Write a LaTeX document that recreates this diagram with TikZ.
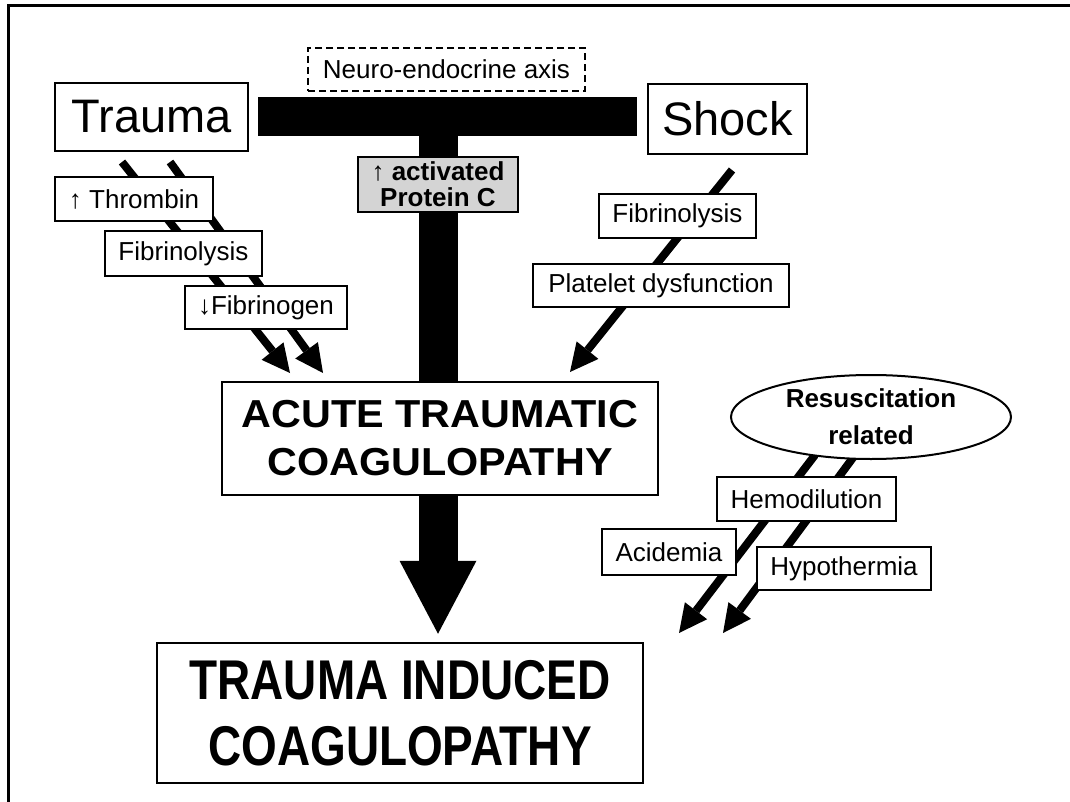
\documentclass[tikz,border=0pt]{standalone}
\usepackage{fontspec}
\setmainfont{Liberation Sans}
\newfontfamily\narrowfont[FakeStretch=0.82]{Liberation Sans}
\newfontfamily\widefont[FakeStretch=1.06]{Liberation Sans}
\usetikzlibrary{arrows.meta,shapes.geometric}

\tikzset{
  box/.style={draw, fill=white, line width=1.5pt, inner sep=0pt, font=\fontsize{26}{30}\selectfont},
  bigbox/.style={draw, fill=white, line width=2.5pt, inner sep=0pt, align=center},
  flow/.style={line width=8pt, -{Triangle[length=28pt,width=28pt,line width=0pt]}},
  trunk/.style={line width=39pt},
}

\begin{document}
\begin{tikzpicture}[x=1pt, y=-1pt]
\useasboundingbox (0,0) rectangle (1070,802);
% frame
\draw[line width=3pt] (8,802) -- (8,6) -- (1070,6);

% free ends of the small arrows
\coordinate (ta1) at (122,162);  \coordinate (tb1) at (290,373);
\coordinate (ta2) at (170,162);  \coordinate (tb2) at (323,373);
\coordinate (sa) at (732,170);   \coordinate (sb) at (570,372);
\coordinate (ra1) at (815,455);  \coordinate (rb1) at (679,633);
\coordinate (ra2) at (855,455);  \coordinate (rb2) at (723,633);

\draw[flow] (ta1) -- (tb1);
\draw[flow] (ta2) -- (tb2);
\draw[flow] (sa) -- (sb);
\draw[flow] (ra1) -- (rb1);
\draw[flow] (ra2) -- (rb2);

% main boxes
\node[bigbox, minimum width=193pt, minimum height=68pt, font=\fontsize{47}{50}\selectfont] (trauma) at (151.5,117) {Trauma};
\node[bigbox, minimum width=159pt, minimum height=70pt, font=\fontsize{47}{50}\selectfont] (shock) at (727.5,119) {Shock};
\node[box, solid, dash pattern=on 7pt off 4pt, minimum width=277pt, minimum height=43pt] (neuro) at (446.5,69.5) {Neuro-endocrine axis};
\node[fill=black, inner sep=0pt, minimum width=379pt, minimum height=39pt] (bar) at (447.5,116.5) {};
\node[box, fill=black!17, align=center, minimum width=160pt, minimum height=55pt, font=\bfseries\fontsize{26}{26}\selectfont] (protc) at (438,184.5) {{\mdseries ↑} activated\\Protein C};
\node[bigbox, minimum width=436pt, minimum height=113pt, font=\widefont\bfseries\fontsize{39}{48}\selectfont] (atc) at (440,438.5) {ACUTE TRAUMATIC\\COAGULOPATHY};
\node[bigbox, minimum width=486pt, minimum height=140pt, font=\narrowfont\bfseries\fontsize{56}{66}\selectfont] (tic) at (400,713) {TRAUMA INDUCED\\COAGULOPATHY};

% the T and the big arrow
\draw[trunk] (bar.south -| protc.north) -- (protc.north);
\draw[trunk] (protc.south) -- (protc.south |- atc.north);
\draw[trunk, -{Triangle[length=73pt,width=77pt,line width=0pt]}, shorten >=8pt] (atc.south -| protc.south) -- (tic.north -| protc.south);

% labels on the small arrows
\node[box, minimum width=158pt, minimum height=44pt] (thromb) at (134,199) {↑ Thrombin};
\node[box, minimum width=157pt, minimum height=45pt] (fibl) at (183.5,253.5) {Fibrinolysis};
\node[box, minimum width=162pt, minimum height=43pt] (fibg) at (266,307.5) {↓Fibrinogen};
\node[box, minimum width=157pt, minimum height=44pt] (fibr) at (677.5,216) {Fibrinolysis};
\node[box, minimum width=256pt, minimum height=43pt] (plat) at (661,285.5) {Platelet dysfunction};
\node[ellipse, draw, fill=white, line width=2pt, inner sep=0pt, minimum width=280pt, minimum height=84pt, align=center, font=\bfseries\fontsize{26}{37}\selectfont] (resus) at (871,417) {Resuscitation\\related};
\node[box, minimum width=179pt, minimum height=44pt] (hemo) at (806.5,499) {Hemodilution};
\node[box, minimum width=134pt, minimum height=46pt] (acid) at (669,552) {Acidemia};
\node[box, minimum width=174pt, minimum height=43pt] (hypo) at (844,568.5) {Hypothermia};
\end{tikzpicture}
\end{document}
